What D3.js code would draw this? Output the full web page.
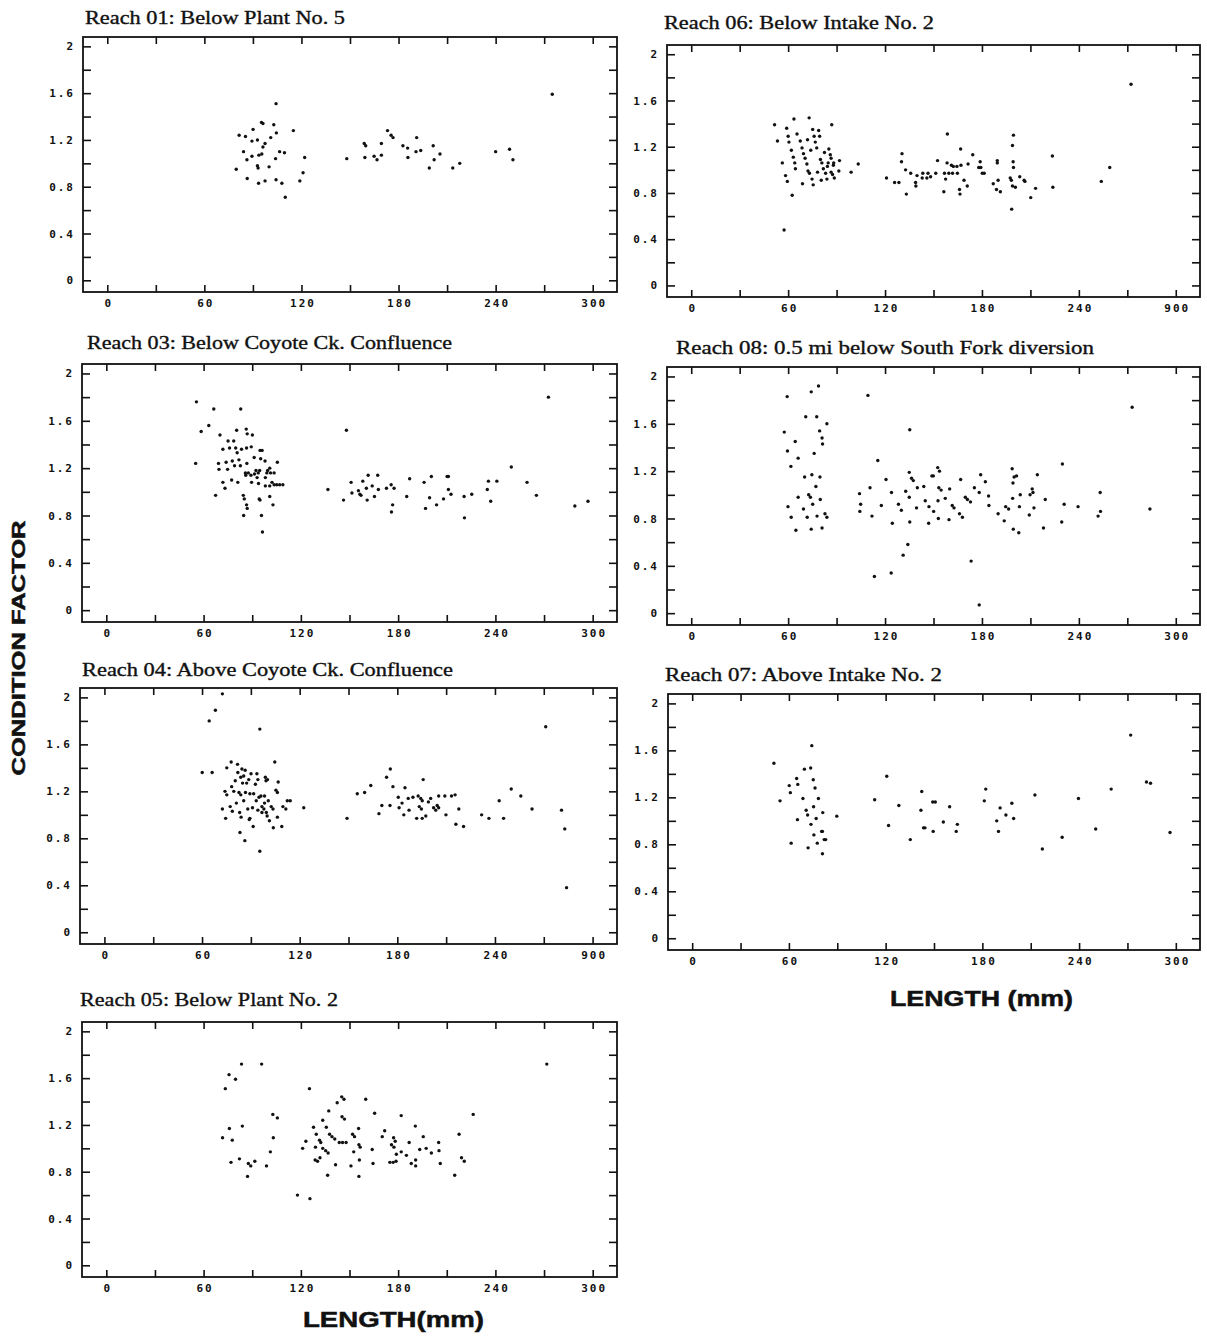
<!DOCTYPE html>
<html>
<head>
<meta charset="utf-8">
<script src="https://d3js.org/d3.v7.min.js"></script>
<style>
  body { margin: 0; background: #fff; }
  .title { font-family: "Liberation Serif", "DejaVu Serif", serif; font-size: 18px; fill: #111; stroke: #111; stroke-width: 0.35px; }
  .tick text { font-family: "DejaVu Sans Mono", monospace; font-weight: bold; font-size: 11px; letter-spacing: 2px; fill: #111; }
  .big { font-family: "Liberation Sans", Arial, sans-serif; font-weight: bold; fill: #111; stroke: #111; stroke-width: 0.5px; }
</style>
</head>
<body>
<script>
// ---- data: [length (mm), condition factor] ----
const reach01 = [[79.7,0.95],[81.5,1.24],[85.4,1.23],[84.2,1.10],[86.3,1.03],[86.5,0.87],[89.4,1.19],[90.1,1.29],[89.4,1.06],[92.8,1.20],[95.3,1.35],[96.2,1.34],[93.5,0.83],[92.8,0.98],[93.2,0.96],[93.7,1.07],[95.5,1.08],[96.2,1.14],[97.5,1.17],[97.5,0.85],[100,0.97],[101,1.22],[102.9,1.33],[104.5,1.26],[104.3,1.51],[104,1.04],[104.3,0.86],[106.5,1.10],[107.9,0.83],[109.5,1.09],[110,0.71],[115,1.28],[119,0.85],[121,0.92],[122,1.05],[148,1.04],[158.8,1.17],[159.7,1.15],[159.2,1.05],[164.9,1.06],[166.7,1.03],[169.4,1.07],[169.4,1.17],[173.2,1.28],[175.4,1.24],[176.6,1.22],[182.7,1.15],[185.6,1.13],[185.8,1.05],[191.2,1.22],[190.8,1.10],[193.7,1.11],[199,0.96],[201.4,1.15],[202,1.03],[205.6,1.08],[213.5,0.96],[217.8,1.00],[240,1.10],[248.6,1.12],[250.7,1.03],[275,1.59]];

const reach06 = [[51.6,1.39],[53.4,1.25],[56.4,1.06],[57.5,0.48],[58.4,0.95],[59.1,1.36],[59.5,0.90],[60,1.29],[60.5,1.24],[62,1.17],[62.5,0.78],[63.2,1.11],[63.6,1.44],[64.1,1.06],[64.5,1.01],[65.5,1.31],[67.5,1.25],[68.6,1.19],[68.9,0.88],[69.5,1.14],[70.5,1.10],[71.6,1.05],[72,1.26],[72.3,0.99],[73.2,0.97],[73,1.45],[74,1.17],[74.8,0.92],[75.2,1.35],[75.5,0.87],[76.1,1.29],[76.8,1.24],[77.7,1.19],[78.2,0.98],[78.9,1.34],[79.5,1.29],[80,1.09],[80.5,0.91],[80.9,1.06],[81.8,1.01],[82.5,1.15],[83.2,0.97],[84,0.92],[84.3,1.03],[84.8,1.06],[85.2,1.18],[86.1,1.13],[86.6,1.10],[86.6,0.98],[87.5,0.96],[87,1.39],[88,1.04],[88.2,1.06],[88.6,0.93],[91.8,1.08],[91.4,0.99],[99,0.98],[103.4,1.05],[120.9,0.93],[125.9,0.89],[128.6,0.89],[130.5,1.14],[130.2,1.07],[132.7,1.00],[133.2,0.79],[135.9,0.97],[138.9,0.89],[139.1,0.86],[139.8,0.95],[143.4,0.97],[146.6,0.97],[143,0.93],[145.9,0.93],[148.2,0.94],[151.4,0.97],[152.5,1.08],[156.4,0.81],[156.8,0.97],[159.5,0.97],[157.5,0.92],[158.6,1.31],[158.4,1.06],[161.1,1.04],[162.3,1.03],[164.5,1.03],[167,1.04],[161.8,0.97],[164.8,0.97],[166.1,0.83],[166.4,0.79],[166.8,1.18],[168.9,0.91],[170.9,0.86],[171.4,1.05],[174.3,1.13],[178,1.02],[178.9,1.07],[179.3,1.02],[180.2,0.97],[181.4,0.97],[187,0.88],[189,0.83],[189.5,1.08],[189.5,1.06],[190,0.91],[191.4,0.81],[197.5,0.93],[198.2,0.91],[198.4,0.66],[198.9,1.21],[199.5,1.30],[199.3,1.07],[199.5,1.02],[198.9,0.86],[200.7,0.85],[203.4,0.94],[206.1,0.91],[206.6,0.90],[210.2,0.76],[213.2,0.84],[223.6,1.12],[223.9,0.85],[253.9,0.90],[259.1,1.02],[272.3,1.74]];

const reach03 = [[55.6,1.76],[55.1,1.24],[58.5,1.51],[63.2,1.56],[66.3,1.70],[67.4,0.97],[69.2,1.24],[69.5,1.19],[70.1,1.48],[71.9,1.36],[71.9,1.08],[73.2,1.03],[73.9,1.25],[74.8,1.19],[75.1,1.43],[78.6,1.43],[76,1.37],[79.8,1.37],[77.3,1.10],[77.7,1.26],[79.1,1.22],[80.4,1.52],[80.7,1.33],[81.1,1.08],[81.8,1.27],[82.7,1.22],[82.9,1.70],[83.4,1.36],[86.5,1.37],[89.4,1.38],[84.5,0.97],[85.1,0.94],[84.7,0.80],[85.8,1.16],[86,1.14],[86.3,1.53],[86.5,0.89],[86.9,0.86],[86.9,1.49],[90.1,1.48],[86.7,1.24],[87.6,1.16],[89.2,1.14],[89.6,1.08],[91.2,1.29],[91.4,1.15],[92.3,1.18],[93.7,1.16],[94.6,1.18],[93,1.12],[93.9,1.07],[94.3,0.94],[94.8,0.93],[94.8,1.35],[96.1,1.35],[95.2,1.28],[97.9,1.26],[95.7,0.80],[96.3,0.66],[98.1,1.12],[99,1.16],[99.5,1.18],[100.8,1.20],[98.1,1.05],[100.8,1.05],[100.8,0.96],[102.2,1.08],[103.5,1.06],[105.1,1.06],[106.9,1.06],[108.9,1.06],[101.3,1.16],[103.5,1.16],[102.8,0.89],[105.5,1.25],[136.7,1.02],[146.3,0.93],[148.1,1.52],[151,1.08],[151.5,0.99],[155.5,1.01],[156.4,0.98],[157.1,0.97],[158.2,1.09],[160.4,1.03],[160.9,0.93],[161.5,1.14],[164,1.05],[165.4,0.96],[167.4,1.14],[167.8,1.02],[172.8,1.03],[175.7,1.06],[176.6,0.89],[175.9,0.83],[177.5,1.03],[185.3,0.96],[187.1,1.11],[196,1.08],[196.9,0.86],[199.4,0.95],[200.5,1.13],[203.7,0.89],[208,0.94],[210.2,1.13],[211,1.13],[211,1.02],[212.6,0.98],[220.7,0.96],[220.9,0.78],[225.4,0.98],[235,1.02],[235.7,1.09],[237.1,0.92],[240.9,1.09],[249.8,1.21],[259.5,1.08],[265.3,0.97],[272.7,1.80],[289,0.88],[297.1,0.92]];

const reach08 = [[57.6,1.53],[59.4,1.83],[59.6,1.37],[59.9,0.90],[61.7,1.24],[61.9,0.81],[64.4,1.45],[64.8,0.70],[66.2,1.31],[66.2,0.98],[69.5,0.88],[70.2,1.15],[70.9,1.66],[71.8,0.81],[72.7,1.00],[73.8,0.98],[74.3,1.87],[74.3,0.71],[74.7,1.17],[75.2,0.92],[76.1,1.35],[77.2,1.07],[77.7,1.66],[77.9,0.82],[78.8,1.92],[79.5,1.54],[79.7,1.15],[79.9,0.96],[81,1.48],[81.3,1.43],[81,0.72],[82.8,0.84],[84,0.81],[84,1.60],[104.2,1.01],[104.9,0.92],[104.4,0.86],[109.4,1.84],[110.7,1.06],[111.9,0.82],[113.4,0.31],[115.5,1.29],[117.7,0.91],[120.6,1.13],[124,1.02],[124.5,0.76],[123.8,0.34],[128.3,0.92],[130.1,0.87],[131.2,0.49],[132.8,1.03],[134.1,0.58],[135,1.19],[136.4,1.14],[137.5,1.12],[135,0.98],[135.3,0.77],[135.3,1.55],[139.5,0.89],[140,1.06],[144,1.07],[144.9,0.95],[147,0.76],[147.2,0.90],[149,1.16],[149.9,1.16],[150.1,0.86],[152.6,1.23],[153.7,1.20],[152.8,0.95],[153,0.80],[153.3,1.06],[154.7,1.04],[157.3,0.97],[159.6,0.79],[160,1.05],[161.6,0.91],[162.7,0.89],[166.1,0.84],[167.9,0.81],[166.8,1.13],[169.7,0.98],[171,0.96],[172.9,0.94],[173.3,0.44],[175.3,1.06],[178.3,1.02],[178.3,0.07],[179.2,1.17],[182.1,1.11],[184.1,0.99],[184.3,0.91],[190,0.84],[193.8,0.78],[194.7,0.90],[196.5,0.88],[198.7,1.22],[199.9,1.15],[201.4,1.16],[199.2,1.10],[199,0.97],[199.4,0.71],[202.8,0.68],[203.2,0.90],[203.7,1.00],[209.3,0.83],[209.8,1.00],[211.1,1.05],[211.6,1.02],[212.2,0.89],[214.3,1.17],[218.1,0.72],[219.2,0.96],[229.4,0.77],[229.8,1.26],[230.9,0.92],[239.5,0.90],[251.9,0.82],[253.2,1.02],[253.4,0.86],[273,1.74],[284,0.88]];

const reach04 = [[60.1,1.36],[66.2,1.36],[64.4,1.80],[68.2,1.89],[72.5,2.03],[72.5,1.05],[74.5,0.97],[74.1,1.20],[75.2,1.17],[75.2,1.40],[77.3,1.07],[77.9,1.45],[78.2,1.24],[78.6,1.03],[79.5,1.20],[80.4,1.29],[81.1,1.10],[81.8,1.43],[82,1.36],[82.7,1.19],[83.8,1.17],[83.1,1.02],[84,0.98],[83.3,0.85],[83.8,1.32],[85.6,1.33],[84.5,1.39],[86.5,1.38],[84.9,1.27],[85.6,1.12],[86.3,0.78],[86.7,1.19],[87.4,1.27],[88.1,1.05],[88.7,1.30],[89.4,0.97],[89,0.96],[89.4,1.18],[90.1,1.35],[91,1.06],[91.4,0.90],[91.7,1.18],[92.8,1.26],[94.3,1.30],[93.3,1.12],[95,1.15],[96.2,1.16],[98.4,1.16],[93.7,1.35],[94.3,1.04],[95.5,1.73],[95.5,0.69],[96.8,1.07],[98,1.05],[96.8,1.02],[99.5,1.02],[98.4,1.10],[98.9,1.32],[100.2,1.30],[99.3,1.29],[100,0.99],[100.7,1.12],[101.4,0.95],[102.5,1.07],[103.6,1.05],[103.8,0.89],[104.7,1.45],[105.4,1.21],[106.3,1.19],[106.3,0.98],[106.8,1.28],[109,0.90],[109.7,1.07],[111.5,1.05],[112.4,1.12],[114.2,1.12],[122.5,1.06],[149.1,0.97],[155.4,1.18],[159.9,1.19],[163.7,1.25],[168.7,1.01],[170.5,1.08],[173.4,1.32],[175.7,1.39],[175.5,1.08],[177.3,1.24],[180.6,1.15],[181.1,1.06],[182.9,1.10],[184,1.00],[184.7,1.23],[187.2,1.04],[186.7,1.14],[189.6,1.15],[191.9,0.97],[192.8,1.16],[194.4,1.14],[195.3,1.12],[193.5,1.07],[194.8,1.05],[195.9,1.30],[195.3,0.97],[197.5,0.99],[199.1,1.11],[200.5,1.14],[202.3,1.06],[203.6,1.04],[204.5,1.08],[205.4,1.06],[205.4,1.16],[209.2,1.16],[209.9,1.00],[213.3,1.16],[215.5,1.17],[216,0.92],[217.8,1.05],[220.7,0.90],[231.8,1.00],[236.3,0.97],[242.6,1.12],[245.3,0.97],[250,1.22],[255.9,1.16],[262.8,1.05],[271.2,1.75],[280.9,1.04],[282.9,0.88],[284,0.38]];

const reach07 = [[50.7,1.49],[54.5,1.17],[60.2,1.30],[60.9,1.24],[61.4,0.81],[64.8,1.36],[65.5,1.31],[65.3,1.01],[68.7,1.19],[69.6,1.44],[70.7,1.09],[71.6,1.05],[71.9,0.77],[73.5,1.45],[74.2,1.64],[73.7,0.97],[75.1,1.35],[75.3,1.12],[75.5,0.88],[76.2,1.28],[76.9,1.02],[77.6,0.81],[78.3,1.19],[80.3,0.91],[80.8,0.91],[81,1.07],[80.8,0.72],[81.9,0.84],[82.8,0.84],[89.7,1.04],[113.2,1.18],[120.7,1.38],[121.8,0.96],[128.2,1.13],[135.3,0.84],[141.9,1.09],[142.4,1.25],[143.5,0.94],[144.4,0.94],[149.2,1.16],[150.8,1.16],[149.5,0.91],[155.8,0.99],[159.7,1.12],[163.8,0.91],[164.5,0.97],[181.2,1.17],[182.1,1.27],[188.9,1.00],[190,0.91],[191,1.11],[194.6,1.05],[198.3,1.15],[199.4,1.02],[212.6,1.22],[217.2,0.76],[229.5,0.86],[239.6,1.19],[250.3,0.93],[259.9,1.27],[272,1.73],[281.8,1.33],[284.3,1.32],[296.4,0.90]];

const reach05 = [[71.7,1.09],[73.4,1.51],[75.7,1.63],[75.9,1.17],[77.7,1.07],[76.9,0.88],[79.7,1.59],[82.1,0.91],[83.4,1.72],[83.9,1.19],[87.1,0.76],[87.6,0.87],[89.1,0.85],[91.6,0.89],[95.8,1.72],[98.8,0.85],[101.2,0.97],[102.7,1.29],[105.5,1.26],[103,1.09],[117.9,0.60],[121.1,1.00],[123.1,1.06],[125.6,0.57],[125.3,1.51],[127.8,1.18],[128.8,0.90],[130.3,0.89],[129,1.01],[129.5,1.12],[131.5,1.07],[132.3,1.05],[131.8,0.92],[133.5,1.24],[133.5,1.00],[135.3,0.98],[136.8,0.96],[135.7,1.18],[136.5,0.77],[137.2,1.32],[137.7,1.12],[139.2,1.10],[140.9,1.08],[141.4,0.86],[142.4,1.39],[143.7,1.05],[145.7,1.05],[147.9,1.05],[145.2,1.44],[146.6,1.42],[145.4,1.27],[146.9,1.25],[150.9,0.85],[151.9,1.12],[153.1,1.10],[152.6,0.97],[155.6,1.17],[155.8,0.76],[155.8,1.03],[156.6,1.01],[156.1,0.90],[160,1.42],[164,0.99],[164.5,0.87],[165.5,1.30],[170.2,1.10],[171.7,1.15],[174.9,0.88],[176.9,0.88],[178.7,0.89],[175.9,1.03],[177.4,1.01],[177.2,1.09],[178.2,1.06],[178.9,0.95],[181.9,1.28],[181.9,0.97],[185.1,0.94],[186.8,1.05],[188.1,0.87],[190.6,1.19],[190.8,0.90],[190.8,0.85],[193.3,0.99],[195.5,1.10],[197.3,1.00],[200.5,0.96],[205,1.05],[205.2,0.98],[206,0.87],[214.9,0.77],[217.6,1.12],[219.1,0.92],[220.8,0.89],[226.3,1.29],[271.7,1.72]];

const titles = {
  r01: "Reach 01:  Below Plant No. 5",
  r06: "Reach 06: Below Intake No. 2",
  r03: "Reach 03:  Below Coyote Ck. Confluence",
  r08: "Reach 08: 0.5 mi below South Fork diversion",
  r04: "Reach 04:  Above Coyote Ck. Confluence",
  r07: "Reach 07: Above Intake No. 2",
  r05: "Reach 05: Below Plant No. 2"
};

const xTicks = [0, 30, 60, 90, 120, 150, 180, 210, 240, 270, 300];
const xLabels = ["0", "60", "120", "180", "240", "300"];
const xLabelsScan = ["0", "60", "120", "180", "240", "900"];   // as printed on the scanned panels
const yTicks = [0, 0.2, 0.4, 0.6, 0.8, 1, 1.2, 1.4, 1.6, 1.8, 2];
const yLabels = ["0", "0.4", "0.8", "1.2", "1.6", "2"];

// ---- layout (pixels) ----
const width = 1207, height = 1341;
const panels = [
  { key: "r01", data: reach01, x: 83,  y: 37,   w: 534, h: 255, tx: 85,  ty: 24,   tw: 260, xl: xLabels },
  { key: "r06", data: reach06, x: 667, y: 45,   w: 533, h: 252, tx: 664, ty: 29,   tw: 270, xl: xLabelsScan },
  { key: "r03", data: reach03, x: 82,  y: 364,  w: 535, h: 258, tx: 87,  ty: 349,  tw: 365, xl: xLabels },
  { key: "r08", data: reach08, x: 667, y: 367,  w: 533, h: 258, tx: 676, ty: 354,  tw: 418, xl: xLabels },
  { key: "r04", data: reach04, x: 80,  y: 688,  w: 537, h: 256, tx: 82,  ty: 676,  tw: 371, xl: xLabelsScan },
  { key: "r07", data: reach07, x: 668, y: 694,  w: 532, h: 256, tx: 665, ty: 681,  tw: 277, xl: xLabels },
  { key: "r05", data: reach05, x: 82,  y: 1022, w: 535, h: 255, tx: 80,  ty: 1006, tw: 258, xl: xLabels }
];

const svg = d3.select("body").append("svg")
  .attr("width", width)
  .attr("height", height)
  .style("display", "block");

panels.forEach(function (p) {
  const x = d3.scaleLinear().domain([-15, 315]).range([0, p.w]);
  const y = d3.scaleLinear().domain([-0.1, 2.08]).range([p.h, 0]);
  const g = svg.append("g").attr("transform", "translate(" + p.x + "," + p.y + ")");

  const xFmt = d => (d % 60 === 0 ? p.xl[d / 60] : "");
  const yFmt = d => {
    const i = Math.round(d * 10);
    return i % 4 === 0 ? yLabels[i / 4] : "";
  };

  // bottom & left axes carry the labels, ticks point inward
  g.append("g").attr("transform", "translate(0," + p.h + ")")
    .call(d3.axisBottom(x).tickValues(xTicks).tickSize(-7).tickPadding(7).tickFormat(xFmt))
    .selectAll("text").attr("dx", "1px");
  g.append("g")
    .call(d3.axisLeft(y).tickValues(yTicks).tickSize(-8).tickPadding(8).tickFormat(yFmt));
  g.append("g")
    .call(d3.axisTop(x).tickValues(xTicks).tickSize(-7).tickFormat(""));
  g.append("g").attr("transform", "translate(" + p.w + ",0)")
    .call(d3.axisRight(y).tickValues(yTicks).tickSize(-8).tickFormat(""));

  g.selectAll(".domain").remove();
  g.selectAll(".tick line").attr("stroke", "#111").attr("stroke-width", 1.6);

  g.append("rect")
    .attr("width", p.w).attr("height", p.h)
    .attr("fill", "none").attr("stroke", "#111").attr("stroke-width", 1.8);

  g.selectAll("circle.pt")
    .data(p.data)
    .enter().append("circle")
    .attr("class", "pt")
    .attr("cx", d => x(d[0]))
    .attr("cy", d => y(d[1]))
    .attr("r", 1.7)
    .attr("fill", "#111");

  svg.append("text")
    .attr("class", "title")
    .attr("x", p.tx).attr("y", p.ty)
    .attr("textLength", p.tw)
    .attr("lengthAdjust", "spacingAndGlyphs")
    .text(titles[p.key]);
});

// shared axis titles
svg.append("text")
  .attr("class", "big")
  .attr("transform", "translate(25,648) rotate(-90)")
  .attr("text-anchor", "middle")
  .attr("font-size", 18)
  .attr("textLength", 255)
  .attr("lengthAdjust", "spacingAndGlyphs")
  .text("CONDITION FACTOR");

svg.append("text")
  .attr("class", "big")
  .attr("x", 890).attr("y", 1006)
  .attr("font-size", 22)
  .attr("textLength", 183)
  .attr("lengthAdjust", "spacingAndGlyphs")
  .text("LENGTH (mm)");

svg.append("text")
  .attr("class", "big")
  .attr("x", 303).attr("y", 1327)
  .attr("font-size", 22)
  .attr("textLength", 181)
  .attr("lengthAdjust", "spacingAndGlyphs")
  .text("LENGTH(mm)");
</script>
</body>
</html>
